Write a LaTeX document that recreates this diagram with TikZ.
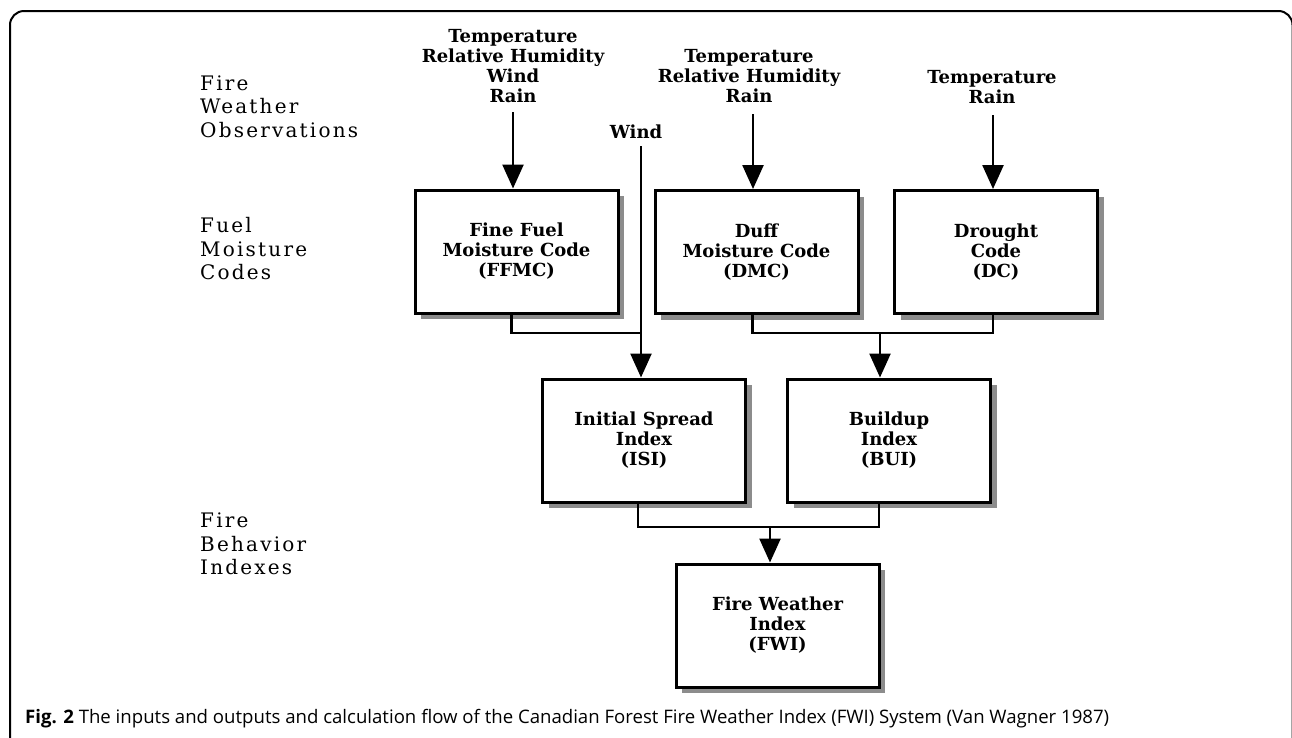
\documentclass[tikz,border=0pt]{standalone}
\usepackage{fontspec}
\setmainfont{DejaVu Serif}
\newfontfamily\sidefam[LetterSpace=11]{DejaVu Serif}
\newfontfamily\capfont{Open Sans}
\usetikzlibrary{arrows.meta,shadows}
\newcommand\inpfont{\fontsize{18}{20}\selectfont\bfseries}
\newcommand\sidefont{\sidefam\fontsize{20}{23.5}\selectfont}
\begin{document}
\begin{tikzpicture}[x=1pt,y=-1pt,
  fbox/.style={draw, line width=3pt, fill=white, minimum width=203pt, minimum height=123pt,
    align=center, font=\inpfont, inner sep=0pt,
    general shadow={fill=black!45, shadow xshift=6pt, shadow yshift=-6pt}},
  inp/.style={align=center, font=\inpfont, inner sep=0pt},
  side/.style={align=left, font=\sidefont, anchor=west, inner sep=0pt},
  conn/.style={line width=2.5pt},
  arr/.style={line width=2.5pt, -{Triangle[width=21pt,length=24pt]}}]
\useasboundingbox (0,0) rectangle (1292,737);
% outer frame
\draw[line width=2pt, rounded corners=14pt] (10,760) -- (10,11) -- (1292.5,11) -- (1292.5,760);
% side labels
\node[side] (obs) at (200,106.5) {Fire\\Weather\\Observations};
\node[side] (fmc) at (200,249) {Fuel\\Moisture\\Codes};
\node[side] (fbi) at (200,544) {Fire\\Behavior\\Indexes};
% boxes
\node[fbox] (FFMC) at (516.5,251.5) {Fine Fuel\\Moisture Code\\(FFMC)};
\node[fbox] (DMC) at (756.5,252) {Duff\\Moisture Code\\(DMC)};
\node[fbox] (DC) at (996,252) {Drought\\Code\\(DC)};
\node[fbox] (ISI) at (644,440.5) {Initial Spread\\Index\\(ISI)};
\node[fbox] (BUI) at (889,440.5) {Buildup\\Index\\(BUI)};
\node[fbox] (FWI) at (777.5,625.5) {Fire Weather\\Index\\(FWI)};
% inputs
\node[inp] (in1) at (513,66.5) {Temperature\\Relative Humidity\\Wind\\Rain};
\node[inp] (wind) at (636,132) {Wind};
\node[inp] (in2) at (749,76.5) {Temperature\\Relative Humidity\\Rain};
\node[inp] (in3) at (992,87.5) {Temperature\\Rain};
% connection points
\coordinate (ffmcin) at ([xshift=-3.5pt]FFMC.north);
\coordinate (dmcin) at ([xshift=-3.5pt]DMC.north);
\coordinate (dcin) at ([xshift=-3pt]DC.north);
\coordinate (isiin) at ([xshift=-3pt]ISI.north);
\coordinate (buiin) at ([xshift=-9pt]BUI.north);
\coordinate (fwiin) at ([xshift=-7.5pt]FWI.north);
\coordinate (ffmcout) at ([xshift=-5pt]FFMC.south);
\coordinate (dmcout) at ([xshift=-4pt]DMC.south);
\coordinate (dcout) at ([xshift=-3pt]DC.south);
\coordinate (isiout) at ([xshift=-6pt]ISI.south);
\coordinate (buiout) at ([xshift=-10pt]BUI.south);
\coordinate (y1) at (0,333);
\coordinate (y2) at (0,527);
% input arrows
\draw[arr] (in1.south -| ffmcin) ++(0,9) -- (ffmcin);
\draw[arr] (in2.south -| dmcin) ++(0,11) -- (dmcin);
\draw[arr] (in3.south -| dcin) ++(0,11) -- (dcin);
\draw[arr] (wind.south -| isiin) ++(0,7) -- (isiin);
% FFMC to ISI
\draw[conn] (ffmcout) |- (isiin |- y1);
% DMC + DC to BUI
\draw[conn] (dmcout) |- (dcout |- y1) -- (dcout);
\draw[arr] (buiin |- y1) -- (buiin);
% ISI + BUI to FWI
\draw[conn] (isiout) |- (buiout |- y2) -- (buiout);
\draw[arr] (fwiin |- y2) -- (fwiin);
% caption
\node[anchor=base west, inner sep=0pt, font=\capfont\fontsize{18.6}{20}\selectfont] (cap) at (25,723)
  {\textbf{Fig. 2} The inputs and outputs and calculation flow of the Canadian Forest Fire Weather Index (FWI) System (Van Wagner 1987)};
\end{tikzpicture}
\end{document}
